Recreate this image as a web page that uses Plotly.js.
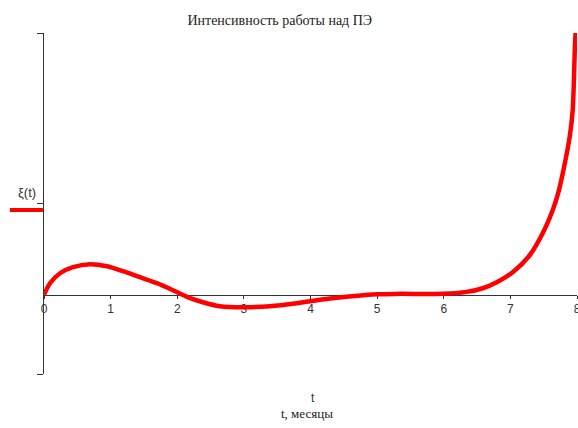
<!DOCTYPE html>
<html>
<head>
<meta charset="utf-8">
<script src="https://cdn.plot.ly/plotly-3.0.1.min.js"></script>
<style>html,body{margin:0;padding:0;background:#fff;}#chart{width:578px;height:428px;}</style>
</head>
<body>
<div id="chart"></div>
<script>
// Time, months
const tValues = [0, 0.09, 0.24, 0.435, 0.69, 0.945, 1.185, 1.44, 1.695, 1.935, 2.145, 2.385, 2.64, 2.985, 3.39, 3.795, 4.095, 4.335, 4.995, 5.34, 5.985, 6.345, 6.585, 6.795, 7.035, 7.29, 7.485, 7.635, 7.71, 7.785, 7.89, 7.935, 7.95, 7.965, 7.98];
// Intensity ξ(t)
const xiValues = [0, 0.135, 0.252, 0.323, 0.358, 0.334, 0.276, 0.205, 0.135, 0.053, -0.025, -0.088, -0.135, -0.147, -0.135, -0.10, -0.065, -0.041, 0.005, 0.01, 0.01, 0.033, 0.076, 0.147, 0.264, 0.463, 0.721, 0.991, 1.17, 1.42, 1.85, 2.16, 2.43, 2.83, 3.1];
const xTicks = [0, 1, 2, 3, 4, 5, 6, 7, 8];
const xRange = [0, 8];
const yRange = [-0.93, 3.07];
const yTicks = [-0.93, 1.07, 3.07];
const titleText = "Интенсивность работы над ПЭ";
const xLabel1 = "t";
const xLabel2 = "t, месяцы";
const yLabel = "ξ(t)";

const trace = {
  x: tValues, y: xiValues, type: 'scatter', mode: 'lines',
  line: {color: '#ff0000', width: 4.5, shape: 'spline', smoothing: 0.8},
  hoverinfo: 'skip'
};

const layout = {
  width: 578, height: 428,
  margin: {l: 44, r: 1, t: 33, b: 54},
  paper_bgcolor: '#ffffff', plot_bgcolor: '#ffffff',
  showlegend: false,
  title: {text: titleText, x: 0.484, xref: 'container', xanchor: 'center', y: 0.953, yref: 'container', yanchor: 'middle',
          font: {family: 'Liberation Serif, serif', size: 14, color: '#222'}},
  xaxis: {range: xRange, anchor: 'free', position: 0.233, showline: true, linecolor: '#333', linewidth: 1,
          ticks: 'outside', ticklen: 3, tickcolor: '#333', tickvals: xTicks, showgrid: false, zeroline: false,
          ticklabeloverflow: 'allow',
          layer: 'below traces', tickfont: {family: 'Arial, Liberation Sans, sans-serif', size: 12, color: '#333'}},
  yaxis: {range: yRange, showline: true, linecolor: '#333', linewidth: 1, ticks: 'outside', ticklen: 6,
          tickcolor: '#333', tickvals: yTicks, showticklabels: false, showgrid: false, zeroline: false, layer: 'below traces'},
  annotations: [
    {text: yLabel, xref: 'paper', yref: 'paper', x: -0.011, xanchor: 'right', y: 0.531, showarrow: false,
     font: {family: 'Arial, Liberation Sans, sans-serif', size: 13, color: '#333'}},
    {text: xLabel1, xref: 'paper', yref: 'paper', x: 0.505, y: -0.097, showarrow: false,
     font: {family: 'Arial, Liberation Sans, sans-serif', size: 12, color: '#333'}},
    {text: xLabel2, xref: 'paper', yref: 'paper', x: 0.493, y: -0.144, showarrow: false,
     font: {family: 'Liberation Serif, serif', size: 13, color: '#222'}}
  ],
  shapes: [
    {type: 'line', xref: 'paper', yref: 'paper', x0: -0.064, x1: -0.002, y0: 0.481, y1: 0.481,
     line: {color: '#ff0000', width: 4}}
  ]
};

Plotly.newPlot('chart', [trace], layout, {staticPlot: true, displayModeBar: false});
</script>
</body>
</html>
